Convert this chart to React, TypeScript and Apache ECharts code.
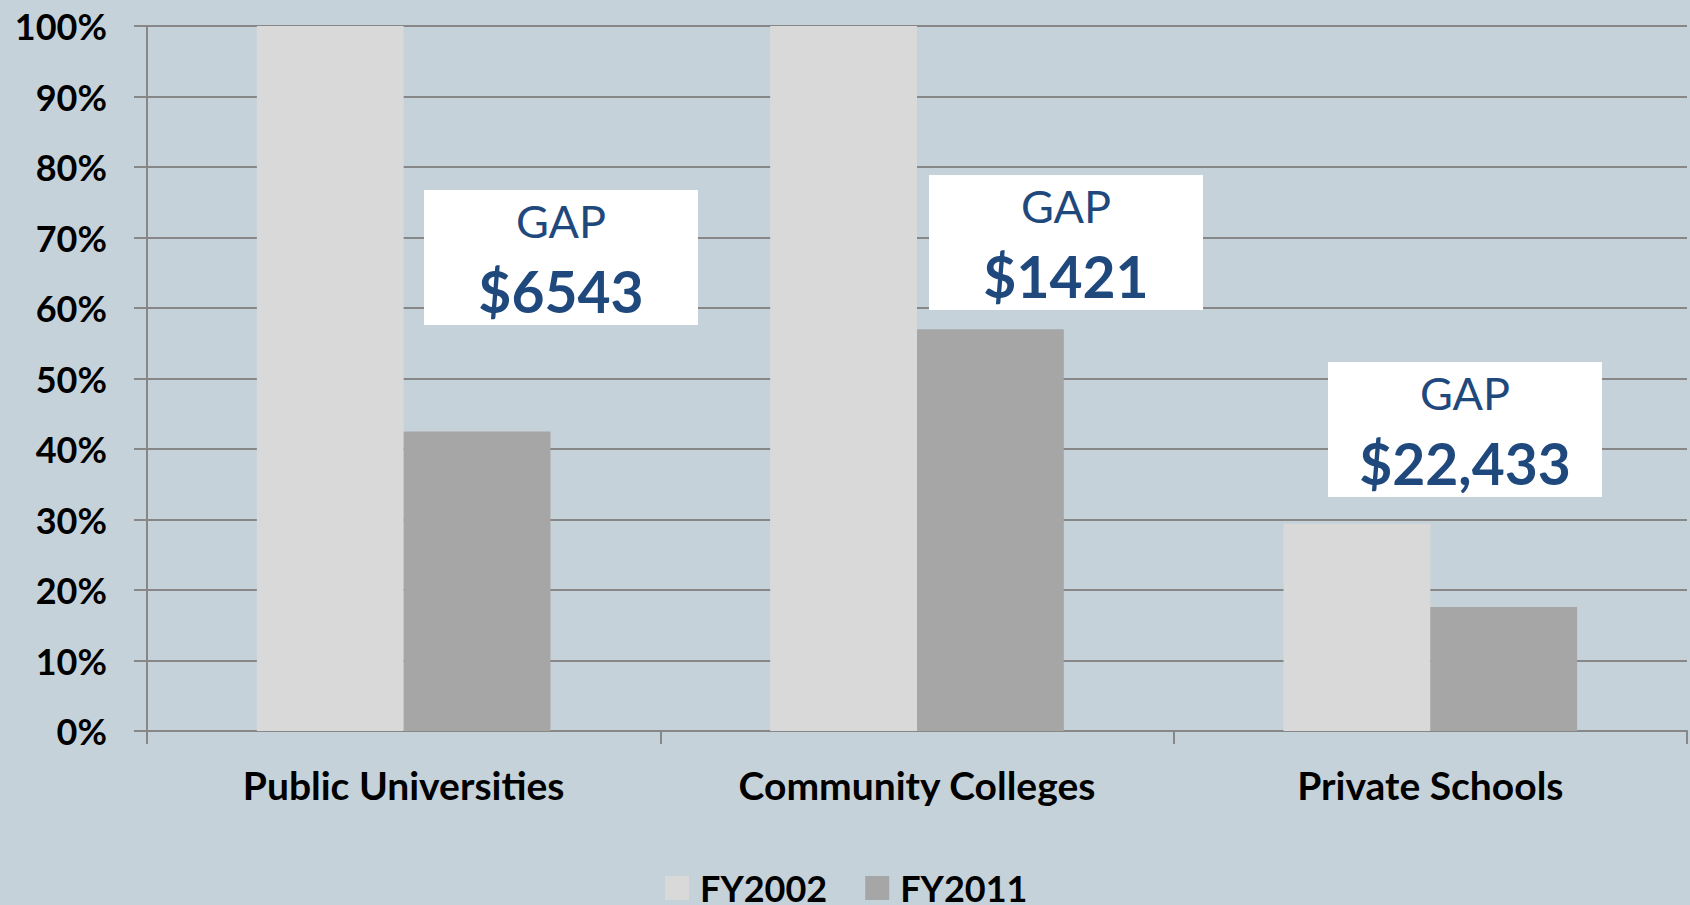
import React, { useEffect, useRef } from "react";
import * as echarts from "echarts";

const categories = ["Public Universities", "Community Colleges", "Private Schools"];
const fy2002 = [100, 100, 29.4];
const fy2011 = [42.5, 57.0, 17.6];
const seriesNames = ["FY2002", "FY2011"];
const gapValues = ["$6543", "$1421", "$22,433"];
const gapBoxes = [
  { x: 424, y: 190 },
  { x: 929, y: 175 },
  { x: 1328, y: 362 },
];

const FONT = "Lato, 'Open Sans', sans-serif";
const BLUE = "#1F497D";

export default function App() {
  const ref = useRef<HTMLDivElement>(null);
  useEffect(() => {
    if (!ref.current) return;
    const chart = echarts.init(ref.current, undefined, { renderer: "svg" });
    const graphics = gapBoxes.map((b, i) => ({
      type: "group",
      x: b.x,
      y: b.y,
      z: 100,
      zlevel: 1,
      children: [
        { type: "rect", z: 100, zlevel: 1, shape: { x: 0, y: 0, width: 274, height: 135 }, style: { fill: "#FFFFFF" } },
        {
          type: "text",
          z: 101,
          zlevel: 1,
          x: 137,
          y: 31,
          style: { text: "GAP", fill: BLUE, font: `400 45px ${FONT}`, align: "center", verticalAlign: "middle" },
        },
        {
          type: "text",
          z: 101,
          zlevel: 1,
          x: 137,
          y: 101,
          style: { text: gapValues[i], fill: BLUE, font: `700 57px ${FONT}`, align: "center", verticalAlign: "middle" },
        },
      ],
    }));
    chart.setOption({
      animation: false,
      backgroundColor: "#C6D2D9",
      grid: { left: 147, right: 3, top: 26, bottom: 174, containLabel: false },
      legend: {
        data: seriesNames,
        left: 665,
        top: 870,
        padding: 0,
        icon: "rect",
        itemWidth: 24,
        itemHeight: 24,
        itemGap: 38,
        textStyle: { fontFamily: FONT, fontWeight: 700, fontSize: 36, lineHeight: 24, color: "#000", padding: [0, 0, 0, 6] },
      },
      xAxis: {
        type: "category",
        data: categories,
        boundaryGap: true,
        axisLine: { lineStyle: { color: "#878787", width: 2 } },
        axisTick: { show: true, length: 13, lineStyle: { color: "#878787", width: 2 } },
        axisLabel: { fontFamily: FONT, fontWeight: 700, fontSize: 39, color: "#000", margin: 34 },
      },
      yAxis: {
        type: "value",
        min: 0,
        max: 100,
        interval: 10,
        axisLine: { show: true, lineStyle: { color: "#878787", width: 2 } },
        axisTick: { show: true, length: 13, lineStyle: { color: "#878787", width: 2 } },
        splitLine: { show: true, lineStyle: { color: "#878787", width: 2 } },
        axisLabel: { formatter: "{value}%", fontFamily: FONT, fontWeight: 700, fontSize: 36, color: "#000", margin: 40 },
      },
      series: [
        {
          name: seriesNames[0],
          type: "bar",
          data: fy2002,
          barGap: "0%",
          barCategoryGap: "42.8%",
          itemStyle: { color: "#D9D9D9" },
        },
        {
          name: seriesNames[1],
          type: "bar",
          data: fy2011,
          barGap: "0%",
          barCategoryGap: "42.8%",
          itemStyle: { color: "#A6A6A6" },
        },
      ],
      graphic: graphics,
    });
    return () => chart.dispose();
  }, []);
  return <div ref={ref} style={{ position: "fixed", left: 0, top: 0, width: 1690, height: 905 }} />;
}
